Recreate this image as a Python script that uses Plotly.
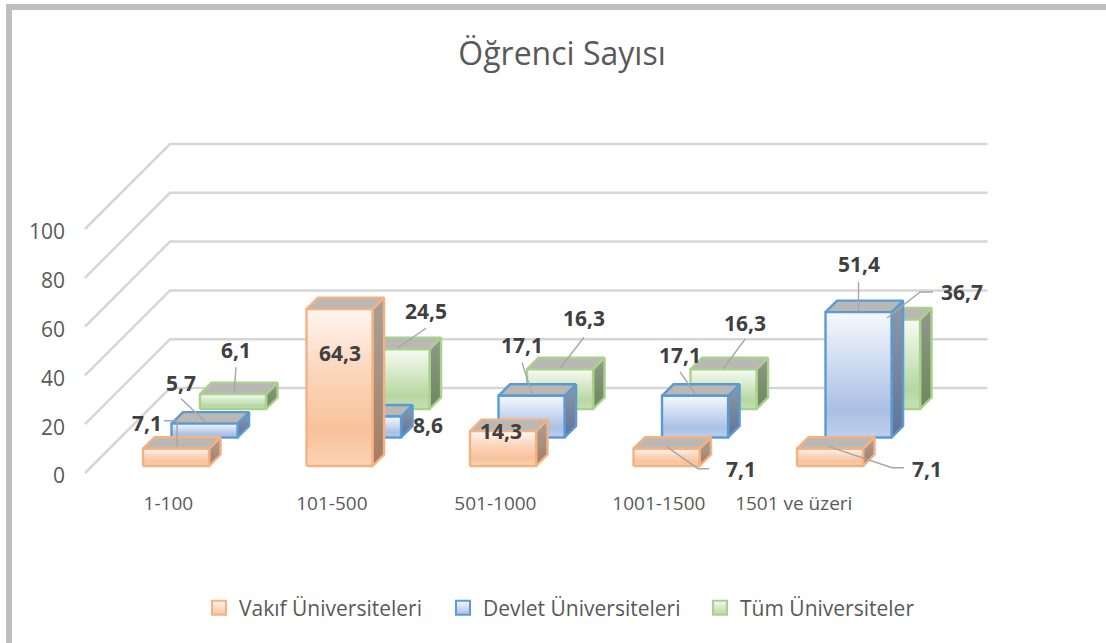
import plotly.graph_objects as go

CATEGORIES = ["1-100", "101-500", "501-1000", "1001-1500", "1501 ve üzeri"]
SERIES_NAMES = ["Vakıf Üniversiteleri", "Devlet Üniversiteleri", "Tüm Üniversiteler"]
VAKIF = [7.1, 64.3, 14.3, 7.1, 7.1]
DEVLET = [5.7, 8.6, 17.1, 17.1, 51.4]
TUM = [6.1, 24.5, 16.3, 16.3, 36.7]
Y_TICKS = [0, 20, 40, 60, 80, 100]
TITLE = "Öğrenci Sayısı"

# ---- chart geometry (oblique 3-D projection) ----
W, H = 1106, 643
PL, PR, PT, PB = 72, 1000, 130, 490     # plot-area pixel box
X0, Y0 = 85, 473                        # pixel of category 0 / value 0 at front
XS, YS = 163.5, 2.44                    # pixels per category / per value unit
DEPTH = 85                              # wall depth in pixels (both directions)
GAP = 0.312                             # gap before the bar, in category units
BAR_W = 0.404                           # bar width, in category units
ROW_D = [7 / DEPTH, 35.5 / DEPTH, 64 / DEPTH]
BAR_D = 11.5 / DEPTH

def proj(c, v, d):
    return c + d * DEPTH / XS, v + d * DEPTH / YS

STYLES = [
    dict(edge="#F4B183", front=["#FBD3B6", "#F8C29A", "#FBD6BC", "#FFF6F0"],
         side=["#A57B60", "#A8907F", "#A89F98"]),
    dict(edge="#5B9BD5", front=["#BFD0EC", "#AABFE4", "#CFDCF1", "#F6F9FE"],
         side=["#60749A", "#77869F", "#8F98A6"]),
    dict(edge="#A9D18E", front=["#C6E0B4", "#B6D7A2", "#D6E9C9", "#F6FBF3"],
         side=["#6F8760", "#7E9070", "#929890"]),
]
TOP_COLOR = "#B9B8B4"
GRID_COLOR = "#D6D6D6"
LEADER_COLOR = "#A6A6A6"
LABEL_COLOR = "#404040"
AXIS_TEXT = "#595959"
FONT = "Open Sans"

# pixel offsets of labels and of leader lines from the top-front centre of each bar
LABEL_OFF = [
    [(-29, -26), (0, 44), (-2, 0), (74.5, 20), (97, 20)],
    [(-23.5, -41), (60, 8.5), (-9.5, -51), (-15, -41), (0, -48)],
    [(3, -44), (29.5, -38), (24, -51), (21.5, -46), (75, -27.5)],
]
LEADER_OFF = [
    [[(-12, -28), (1, -28), (1, -2)], None, None,
     [(0, -2), (31.5, 20), (42.5, 20)], [(-1, -2), (62, 19), (74, 19)]],
    [[(-23.5, -25), (1.5, -1)], None, [(-9.5, -33), (0.5, -2)],
     [(-15, -24), (0, -2)], [(0, -30), (0, -1)]],
    [[(3, -27), (1, -1)], [(29.5, -21), (0.5, -1)], [(24, -32), (0, -1)],
     [(21.5, -30), (0, -1)], [(46, -27.5), (33, -27.5), (0, -1.5)]],
]
LAST_LABEL_SHIFT = -0.175               # last category label sits left of its bars
LEGEND_WIDTHS = [199, 212, 180]         # legend entry widths in pixels

fig = go.Figure()

def poly(pts, **kw):
    xs = [p[0] for p in pts] + [pts[0][0]]
    ys = [p[1] for p in pts] + [pts[0][1]]
    fig.add_trace(go.Scatter(x=xs, y=ys, mode="lines", fill="toself", showlegend=False,
                             hoverinfo="skip", **kw))

# walls' gridlines
for t in Y_TICKS:
    a, b = proj(0, t, 0), proj(0, t, 1)
    c = proj(len(CATEGORIES), t, 1)
    fig.add_trace(go.Scatter(x=[a[0], b[0], c[0]], y=[a[1], b[1], c[1]], mode="lines",
                             line=dict(color=GRID_COLOR, width=2.5), showlegend=False,
                             hoverinfo="skip"))

ALL = [VAKIF, DEVLET, TUM]
# painter's order: back row first
for r in [2, 1, 0]:
    st = STYLES[r]
    line = dict(color=st["edge"], width=2.4)
    for i, v in enumerate(ALL[r]):
        c0, c1 = i + GAP, i + GAP + BAR_W
        d0, d1 = ROW_D[r], ROW_D[r] + BAR_D
        side = [proj(c1, 0, d0), proj(c1, 0, d1), proj(c1, v, d1), proj(c1, v, d0)]
        top = [proj(c0, v, d0), proj(c1, v, d0), proj(c1, v, d1), proj(c0, v, d1)]
        front = [proj(c0, 0, d0), proj(c1, 0, d0), proj(c1, v, d0), proj(c0, v, d0)]
        poly(side, line=line, fillgradient=dict(
            type="vertical",
            colorscale=[[0, st["side"][0]], [0.5, st["side"][1]], [1, st["side"][2]]]))
        poly(top, line=line, fillcolor=TOP_COLOR)
        poly(front, line=line, fillgradient=dict(
            type="vertical",
            colorscale=[[0, st["front"][0]], [0.22, st["front"][1]],
                        [0.6, st["front"][2]], [1, st["front"][3]]]))

# leader lines and data labels
annotations = []
for r in [2, 1, 0]:
    for i, v in enumerate(ALL[r]):
        ax, ay = proj(i + GAP + BAR_W / 2, v, ROW_D[r])
        seg = LEADER_OFF[r][i]
        if seg:
            fig.add_trace(go.Scatter(
                x=[ax + dx / XS for dx, dy in seg], y=[ay - dy / YS for dx, dy in seg],
                mode="lines", line=dict(color=LEADER_COLOR, width=1.4),
                showlegend=False, hoverinfo="skip"))
        lx, ly = LABEL_OFF[r][i]
        annotations.append(dict(
            x=ax, y=ay, xref="x", yref="y", xshift=lx, yshift=-ly, showarrow=False,
            text="<b>" + f"{v:.1f}".replace(".", ",") + "</b>",
            font=dict(family=FONT, size=21, color=LABEL_COLOR),
            xanchor="center", yanchor="middle"))

# legend entries
for r, name in enumerate(SERIES_NAMES):
    st = STYLES[r]
    fig.add_trace(go.Scatter(
        x=[None], y=[None], mode="markers", name=name, legendwidth=LEGEND_WIDTHS[r],
        marker=dict(symbol="square", size=14, color=st["front"][3],
                    gradient=dict(type="vertical", color=st["front"][1]),
                    line=dict(color=st["edge"], width=2))))

xr = [(PL - X0) / XS, (PR - X0) / XS]
yr = [(Y0 - PB) / YS, (Y0 - PT) / YS]

def px_x(p):
    return (p - PL) / (PR - PL)

def px_y(p):
    return (PB - p) / (PB - PT)

tick_x = [i + 0.51 for i in range(len(CATEGORIES))]
tick_x[-1] += LAST_LABEL_SHIFT

shapes = [
    dict(type="rect", xref="paper", yref="paper", layer="below", line=dict(width=0),
         fillcolor="#BFBFBF", x0=px_x(6), x1=px_x(W), y0=px_y(4), y1=px_y(10)),
    dict(type="rect", xref="paper", yref="paper", layer="below", line=dict(width=0),
         fillcolor="#BFBFBF", x0=px_x(6), x1=px_x(12), y0=px_y(4), y1=px_y(H)),
]

fig.update_layout(
    width=W, height=H, autosize=False,
    margin=dict(l=PL, r=W - PR, t=PT, b=H - PB, pad=0),
    paper_bgcolor="white", plot_bgcolor="rgba(0,0,0,0)",
    font=dict(family=FONT, color=AXIS_TEXT),
    title=dict(text=TITLE, x=562 / W, xanchor="center",
               y=1 - 54 / H, yanchor="middle",
               font=dict(family=FONT, size=32, color=AXIS_TEXT)),
    xaxis=dict(range=xr, tickmode="array", tickvals=tick_x, ticktext=CATEGORIES,
               showgrid=False, zeroline=False, showline=False, ticks="",
               tickfont=dict(family=FONT, size=19, color=AXIS_TEXT)),
    yaxis=dict(range=yr, tickmode="array", tickvals=Y_TICKS, showgrid=False,
               zeroline=False, showline=False, ticks="", ticklabelstandoff=6,
               ticklabelshift=3,
               tickfont=dict(family=FONT, size=21, color=AXIS_TEXT)),
    legend=dict(orientation="h", x=px_x(199), xanchor="left", y=px_y(608), yanchor="middle",
                font=dict(family=FONT, size=21, color=AXIS_TEXT)),
    shapes=shapes, annotations=annotations,
)

fig.write_html("out.html", config=dict(displayModeBar=False),
               post_script="document.body.style.margin='0';")
